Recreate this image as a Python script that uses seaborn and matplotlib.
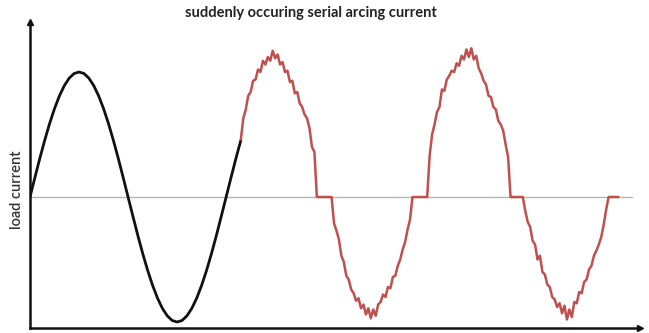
import numpy as np
import pandas as pd
import matplotlib.pyplot as plt
import seaborn as sns

# load current in units of the normal peak, sampled over time (ms)
normal_start, normal_step = 0.0, 0.5
normal_current = [0.0, 0.156, 0.309, 0.454, 0.588, 0.707, 0.809, 0.891, 0.951, 0.988,
                  1.0, 0.988, 0.951, 0.891, 0.809, 0.707, 0.588, 0.454, 0.309, 0.156,
                  0.0, -0.156, -0.309, -0.454, -0.588, -0.707, -0.809, -0.891, -0.951, -0.988,
                  -1.0, -0.988, -0.951, -0.891, -0.809, -0.707, -0.588, -0.454, -0.309, -0.156,
                  0.0, 0.156, 0.309, 0.454]

arc_start, arc_step = 21.5, 0.25
arc_current = [
    # first positive half wave
    0.46, 0.63, 0.70, 0.81, 0.84, 0.93, 0.94, 1.02, 1.00, 1.09, 1.06, 1.12, 1.09, 1.17, 1.11, 1.14,
    1.06, 1.08, 1.00, 1.01, 0.92, 0.93, 0.83, 0.84, 0.75, 0.72, 0.66, 0.63, 0.55, 0.40, 0.36,
    # arc extinguished
    0.0, 0.0, 0.0, 0.0, 0.0, 0.0, 0.0,
    # negative half wave
    -0.21, -0.27, -0.34, -0.47, -0.52, -0.63, -0.66, -0.74, -0.77, -0.83, -0.81, -0.89, -0.86, -0.94,
    -0.89, -0.97, -0.90, -0.95, -0.86, -0.84, -0.78, -0.80, -0.72, -0.73, -0.64, -0.63, -0.55, -0.50,
    -0.42, -0.36, -0.26, -0.18,
    0.0, 0.0, 0.0, 0.0, 0.0, 0.0, 0.0,
    # second positive half wave
    0.33, 0.50, 0.58, 0.68, 0.72, 0.86, 0.85, 0.94, 0.97, 1.01, 1.00, 1.07, 1.05, 1.13, 1.10, 1.18,
    1.12, 1.19, 1.10, 1.13, 1.03, 0.99, 0.93, 0.90, 0.81, 0.80, 0.72, 0.70, 0.61, 0.58, 0.53, 0.42, 0.32,
    0.0, 0.0, 0.0, 0.0, 0.0, 0.0,
    # second negative half wave
    -0.11, -0.20, -0.24, -0.35, -0.38, -0.50, -0.47, -0.60, -0.62, -0.70, -0.72, -0.80, -0.82, -0.88,
    -0.85, -0.93, -0.87, -0.98, -0.90, -0.96, -0.84, -0.85, -0.76, -0.77, -0.68, -0.66, -0.58, -0.55,
    -0.47, -0.43, -0.38, -0.32, -0.22, -0.10,
    0.0, 0.0, 0.0, 0.0, 0.0,
]

title = "suddenly occuring serial arcing current"
ylabel = "load current"

normal = pd.DataFrame({"t": normal_start + normal_step * np.arange(len(normal_current)),
                       "i": normal_current})
arc = pd.DataFrame({"t": arc_start + arc_step * np.arange(len(arc_current)),
                    "i": arc_current})

sns.set_style("white")
plt.rcParams['font.family'] = ['Lato', 'DejaVu Sans']

fig = plt.figure(figsize=(6.49, 3.33), dpi=100)
ax = fig.add_axes([30 / 649, 5 / 333, 610 / 649, 306 / 333])

ax.axhline(0, xmin=0, xmax=0.987, color="#b5b5b5", lw=1.0, zorder=1)
sns.lineplot(data=normal, x="t", y="i", ax=ax, color="#111111", lw=2.0, zorder=3)
sns.lineplot(data=arc, x="t", y="i", ax=ax, color="#c0504d", lw=1.8, zorder=3)

ax.set_xlim(0, 62.2)
ax.set_ylim(-1.048, 1.40)
ax.set_xticks([])
ax.set_yticks([])
ax.set_xlabel("")
ax.set_ylabel("")
for side in ["top", "right"]:
    ax.spines[side].set_visible(False)
for side in ["left", "bottom"]:
    ax.spines[side].set_color("#111111")
    ax.spines[side].set_linewidth(1.8)

# arrow heads on the axes
ax.plot(1, 0, ">", color="#111111", ms=4, transform=ax.transAxes, clip_on=False)
ax.plot(0, 1, "^", color="#111111", ms=4, transform=ax.transAxes, clip_on=False)

fig.text(311 / 649, 1 - 13 / 333, title, ha="center", va="center",
         fontsize=10.5, fontweight="bold", color="#222222")
fig.text(17 / 649, 1 - 190 / 333, ylabel, ha="center", va="center", rotation=90,
         fontsize=10.5, fontweight="semibold", color="#333333")

fig.savefig("out.png", dpi=100)
